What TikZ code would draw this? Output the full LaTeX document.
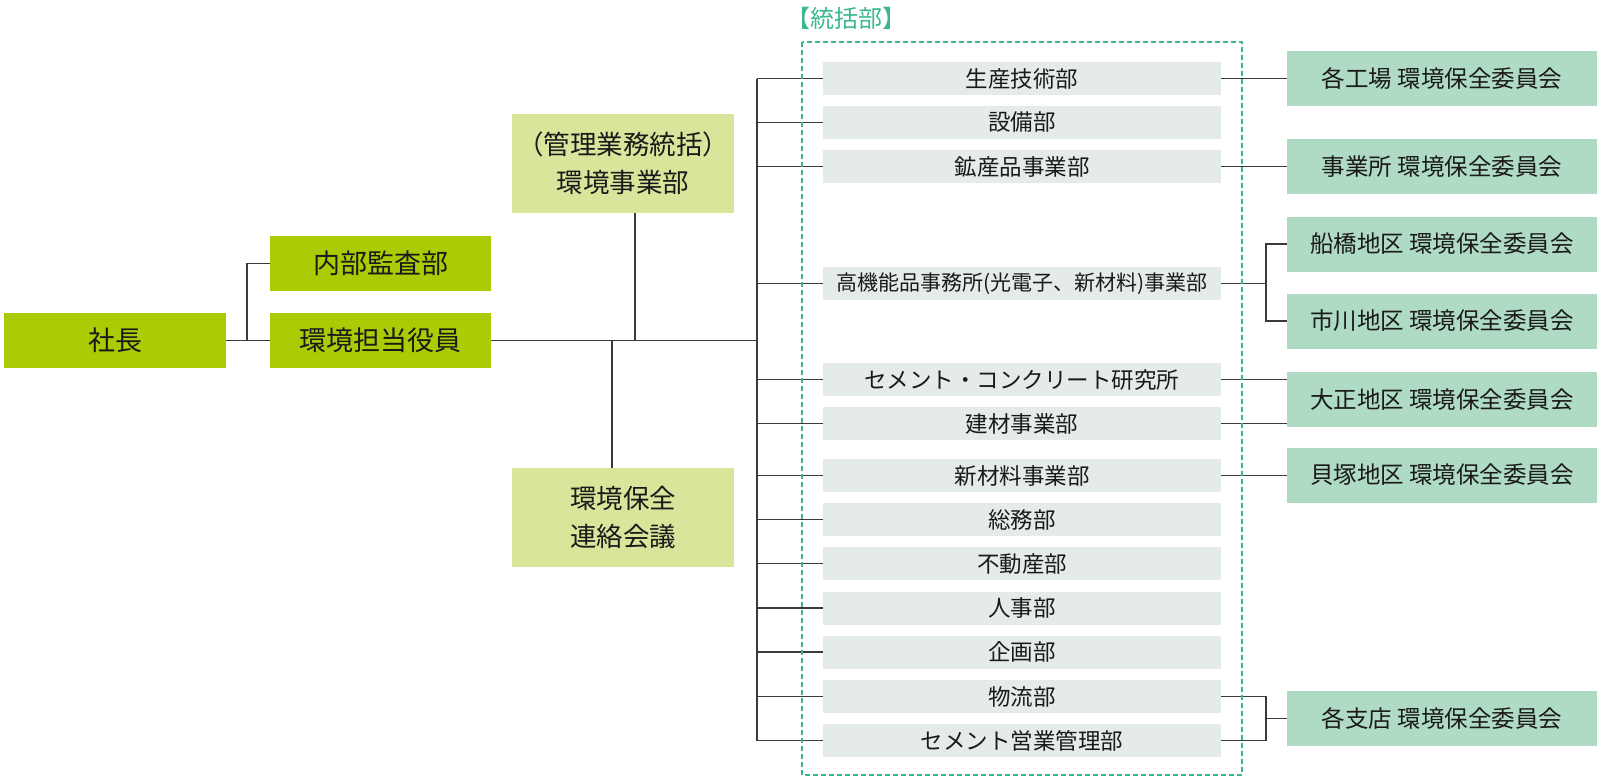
\documentclass[tikz,border=0pt]{standalone}
\usepackage{fontspec}
\setmainfont{Noto Sans CJK JP}
\usetikzlibrary{calc}
\definecolor{limeC}{HTML}{ABCB04}
\definecolor{paleC}{HTML}{D8E59B}
\definecolor{grayC}{HTML}{E5EBE6}
\definecolor{mintC}{HTML}{AFDBC4}
\definecolor{dashC}{HTML}{3CB98A}
\definecolor{lineC}{HTML}{3A3A3A}
\definecolor{txtC}{HTML}{1A1A1A}
\begin{document}
\begin{tikzpicture}[x=1pt,y=-1pt,
  box/.style={rectangle, inner sep=0pt, draw=none, text=txtC, align=center},
  lbox/.style={box, fill=limeC, minimum width=222pt, minimum height=55pt, font=\fontsize{27}{30}\selectfont},
  pbox/.style={box, fill=paleC, minimum width=222pt, minimum height=99pt, font=\fontsize{26.5}{38}\selectfont},
  gbox/.style={box, fill=grayC, minimum width=398pt, minimum height=33pt, font=\fontsize{22.5}{26}\selectfont},
  rbox/.style={box, fill=mintC, minimum width=310pt, minimum height=55pt, font=\fontsize{23.5}{26}\selectfont},
  conn/.style={draw=lineC, line width=1.3pt},
  grp/.style={draw=dashC, line width=2pt, dash pattern=on 5pt off 3pt}]
\useasboundingbox (0,0) rectangle (1600,779);
\fill[white] (0,0) rectangle (1600,779);

% left side
\node[lbox] (shacho) at (115,340.5) {社長};
\node[lbox, minimum width=221pt] (kansa) at (380.5,263.5) {内部監査部};
\node[lbox, minimum width=221pt] (yakuin) at (380.5,340.5) {環境担当役員};
\node[pbox] (kanri) at (623,163.5) {（管理業務統括）\\環境事業部};
\node[pbox] (renraku) at (623,517.5) {環境保全\\連絡会議};

% group label and frame
\node[box, text=dashC, font=\fontsize{24}{26}\selectfont] (grplabel) at (846,18) {【統括部】};

% gray boxes
\node[gbox] (g1) at (1022,78.5) {生産技術部};
\node[gbox] (g2) at (1022,122.5) {設備部};
\node[gbox] (g3) at (1022,166.5) {鉱産品事業部};
\node[gbox, font=\fontsize{21}{24}\selectfont] (g4) at (1022,283.5) {高機能品事務所(光電子、新材料)事業部};
\node[gbox] (g5) at (1022,379.5) {セメント・コンクリート研究所};
\node[gbox] (g6) at (1022,423.5) {建材事業部};
\node[gbox] (g7) at (1022,475.5) {新材料事業部};
\node[gbox] (g8) at (1022,519.5) {総務部};
\node[gbox] (g9) at (1022,563.5) {不動産部};
\node[gbox] (g10) at (1022,608) {人事部};
\node[gbox] (g11) at (1022,652) {企画部};
\node[gbox] (g12) at (1022,696.5) {物流部};
\node[gbox] (g13) at (1022,740.5) {セメント営業管理部};

% right boxes
\node[rbox] (r1) at (1442,78.5) {各工場 環境保全委員会};
\node[rbox] (r2) at (1442,166.5) {事業所 環境保全委員会};
\node[rbox] (r3) at (1442,244) {船橋地区 環境保全委員会};
\node[rbox] (r4) at (1442,321) {市川地区 環境保全委員会};
\node[rbox] (r5) at (1442,399.5) {大正地区 環境保全委員会};
\node[rbox] (r6) at (1442,475) {貝塚地区 環境保全委員会};
\node[rbox] (r7) at (1442,718.5) {各支店 環境保全委員会};

% junction coordinates
\coordinate (j0) at (247,340.5);
\coordinate (bustop) at (757,78.5);
\coordinate (busbot) at (757,740.5);
\coordinate (hub) at (757,340.5);
\coordinate (jr4) at (1266,283.5);
\coordinate (jr7) at (1266,718.5);

% connectors left
\draw[conn] (shacho.east) -- (yakuin.west);
\draw[conn] (j0) |- (kansa.west);
\draw[conn] (yakuin.east) -- (hub);
\draw[conn] ([xshift=12pt]kanri.south) -- ([xshift=12pt]kanri.south |- hub);
\draw[conn] ([xshift=-11pt]renraku.north) -- ([xshift=-11pt]renraku.north |- hub);
\draw[conn] (bustop) -- (busbot);
\foreach \g in {g1,g2,g3,g4,g5,g6,g7,g8,g9,g10,g11,g12,g13}
  \draw[conn] (\g.west -| bustop) -- (\g.west);

% connectors right
\draw[conn] (g1.east) -- (g1.east -| r1.west);
\draw[conn] (g3.east) -- (g3.east -| r2.west);
\draw[conn] (g4.east) -- (jr4);
\draw[conn] (r3.west) -| (jr4) |- (r4.west);
\draw[conn] (g5.east) -- (g5.east -| r5.west);
\draw[conn] (g6.east) -- (g6.east -| r5.west);
\draw[conn] (g7.east) -- (g7.east -| r6.west);
\draw[conn] (g12.east) -| (jr7) |- (g13.east);
\draw[conn] (jr7) -- (r7.west);

% group frame
\draw[grp] (802,42) rectangle (1242,775);
\end{tikzpicture}
\end{document}
